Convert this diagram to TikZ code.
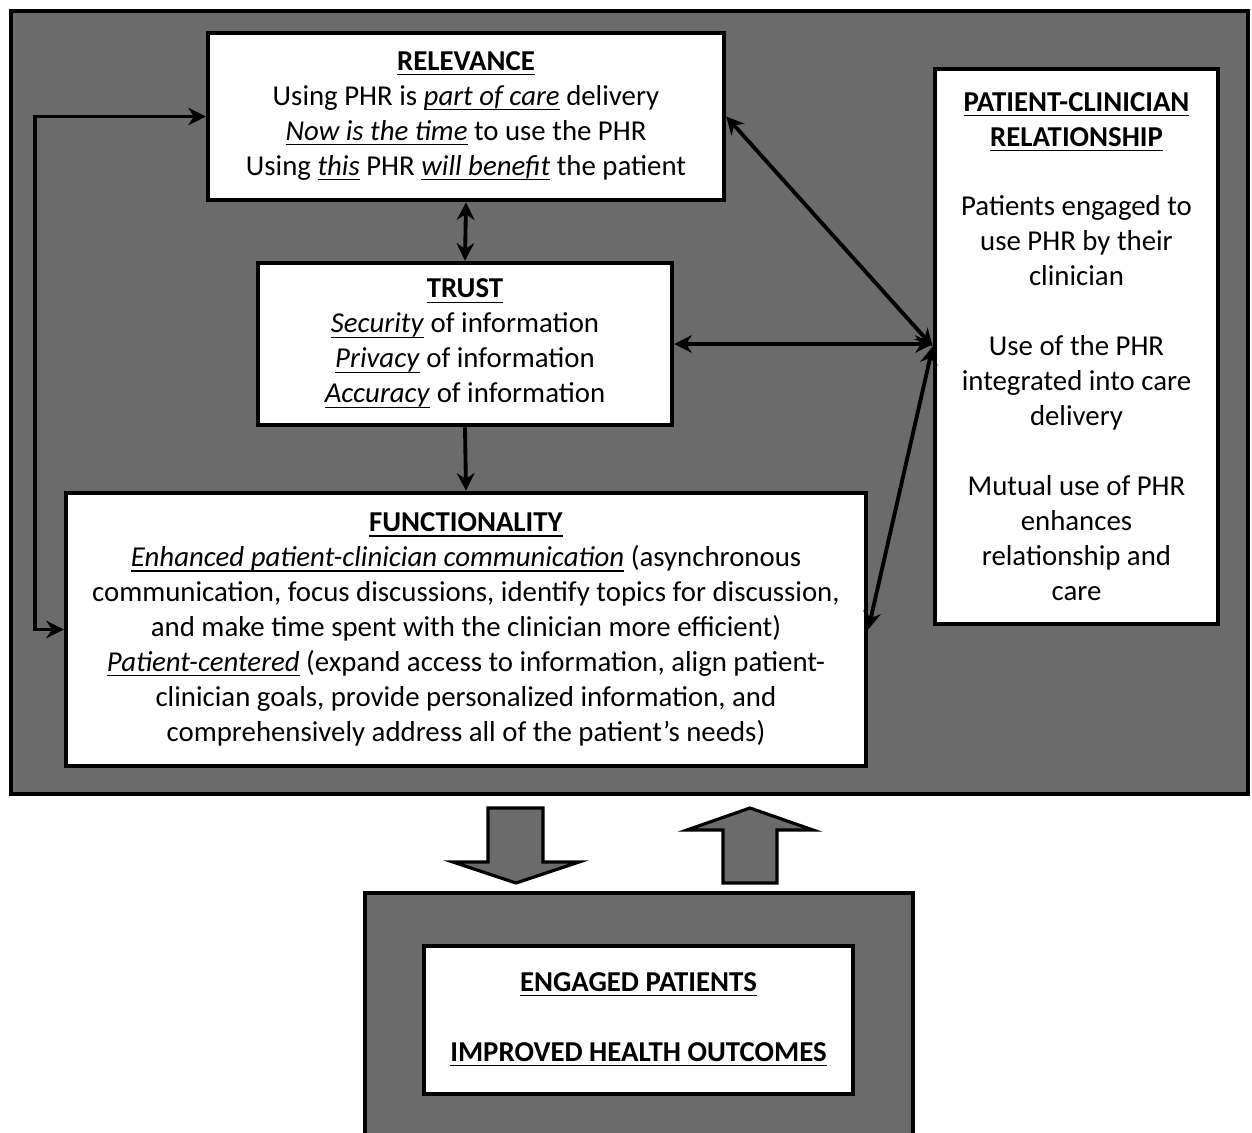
\documentclass[tikz,border=0pt]{standalone}
\usepackage{amsmath}
\usepackage{fontspec}
\setmainfont{Carlito}
\usetikzlibrary{arrows.meta, positioning, calc}
\definecolor{panelgray}{RGB}{107,107,107}
\newcommand{\ul}[1]{\underline{\smash[b]{#1}}}

\begin{document}
\begin{tikzpicture}[x=0.02cm, y=-0.02cm,
  frame/.style={draw, line width=2.6pt, fill=panelgray, inner sep=0pt},
  box/.style={draw, line width=2.6pt, fill=white, align=center, inner sep=0pt,
              font=\fontsize{16.4}{19.9}\selectfont},
  link/.style={line width=2.2pt, {Stealth[length=10pt,width=10pt]}-{Stealth[length=10pt,width=10pt]}},
  oneway/.style={line width=2.2pt, -{Stealth[length=10pt,width=10pt]}},
  fatarrow/.style={draw, line width=1.8pt, fill=panelgray, line join=miter},
]
  \useasboundingbox (0,0) rectangle (1252,1133);

  % grey panels
  \node[frame, minimum width=24.74cm, minimum height=15.66cm] (outer) at (629.5,402.5) {};
  \node[frame, minimum width=10.96cm, minimum height=5.14cm]  (engframe) at (639,1021.5) {};

  % boxes inside the main panel
  \node[box, minimum width=10.32cm, minimum height=3.34cm] (rel) at (466,116.5)
    {\ul{\textbf{RELEVANCE}}\\
     Using PHR is \ul{\textit{part of care}} delivery\\
     \ul{\textit{Now is the time}} to use the PHR\\
     Using \ul{\textit{this}} PHR \ul{\textit{will benefit}} the patient};
  \node[box, minimum width=8.28cm, minimum height=3.24cm] (trust) at (465,344)
    {\ul{\textbf{TRUST}}\\
     \ul{\textit{Security}} of information\\
     \ul{\textit{Privacy}} of information\\
     \ul{\textit{Accuracy}} of information};
  \node[box, minimum width=16cm, minimum height=5.46cm] (func) at (466,629.5)
    {\ul{\textbf{FUNCTIONALITY}}\\
     \ul{\textit{Enhanced patient-clinician communication}} (asynchronous\\
     communication, focus discussions, identify topics for discussion,\\
     and make time spent with the clinician more efficient)\\
     \ul{\textit{Patient-centered}} (expand access to information, align patient-\\
     clinician goals, provide personalized information, and\\
     comprehensively address all of the patient’s needs)};
  \node[box, minimum width=5.66cm, minimum height=11.1cm] (pcr) at (1076.5,346.5)
    {\ul{\textbf{PATIENT-CLINICIAN}}\\
     \ul{\textbf{RELATIONSHIP}}\\[0.7cm]
     Patients engaged to\\
     use PHR by their\\
     clinician\\[0.7cm]
     Use of the PHR\\
     integrated into care\\
     delivery\\[0.7cm]
     Mutual use of PHR\\
     enhances\\
     relationship and\\
     care};

  % outcome box
  \node[box, minimum width=8.58cm, minimum height=2.96cm] (engaged) at (638.5,1020)
    {\ul{\textbf{ENGAGED PATIENTS}}\\[0.7cm]
     \ul{\textbf{IMPROVED HEALTH OUTCOMES}}};

  % connectors
  \draw[link] (rel.south) -- (trust.north);
  \draw[oneway] (trust.south) -- (func.north);
  \draw[link] (rel.east) -- (pcr.west);
  \draw[link] (trust.east) -- (trust.east -| pcr.west);
  \draw[link] (func.east) -- (pcr.west);
  \draw[link] (func.west) -- ++(-29,0) |- (rel.west);

  % block arrows between panels
  \draw[fatarrow] (488,808) -- (543,808) -- (543,862) -- (579,862) -- (516,883)
    -- (453,862) -- (488,862) -- cycle;
  \draw[fatarrow] (723,883) -- (777,883) -- (777,830) -- (813,830) -- (750,808)
    -- (687,830) -- (723,830) -- cycle;
\end{tikzpicture}
\end{document}
